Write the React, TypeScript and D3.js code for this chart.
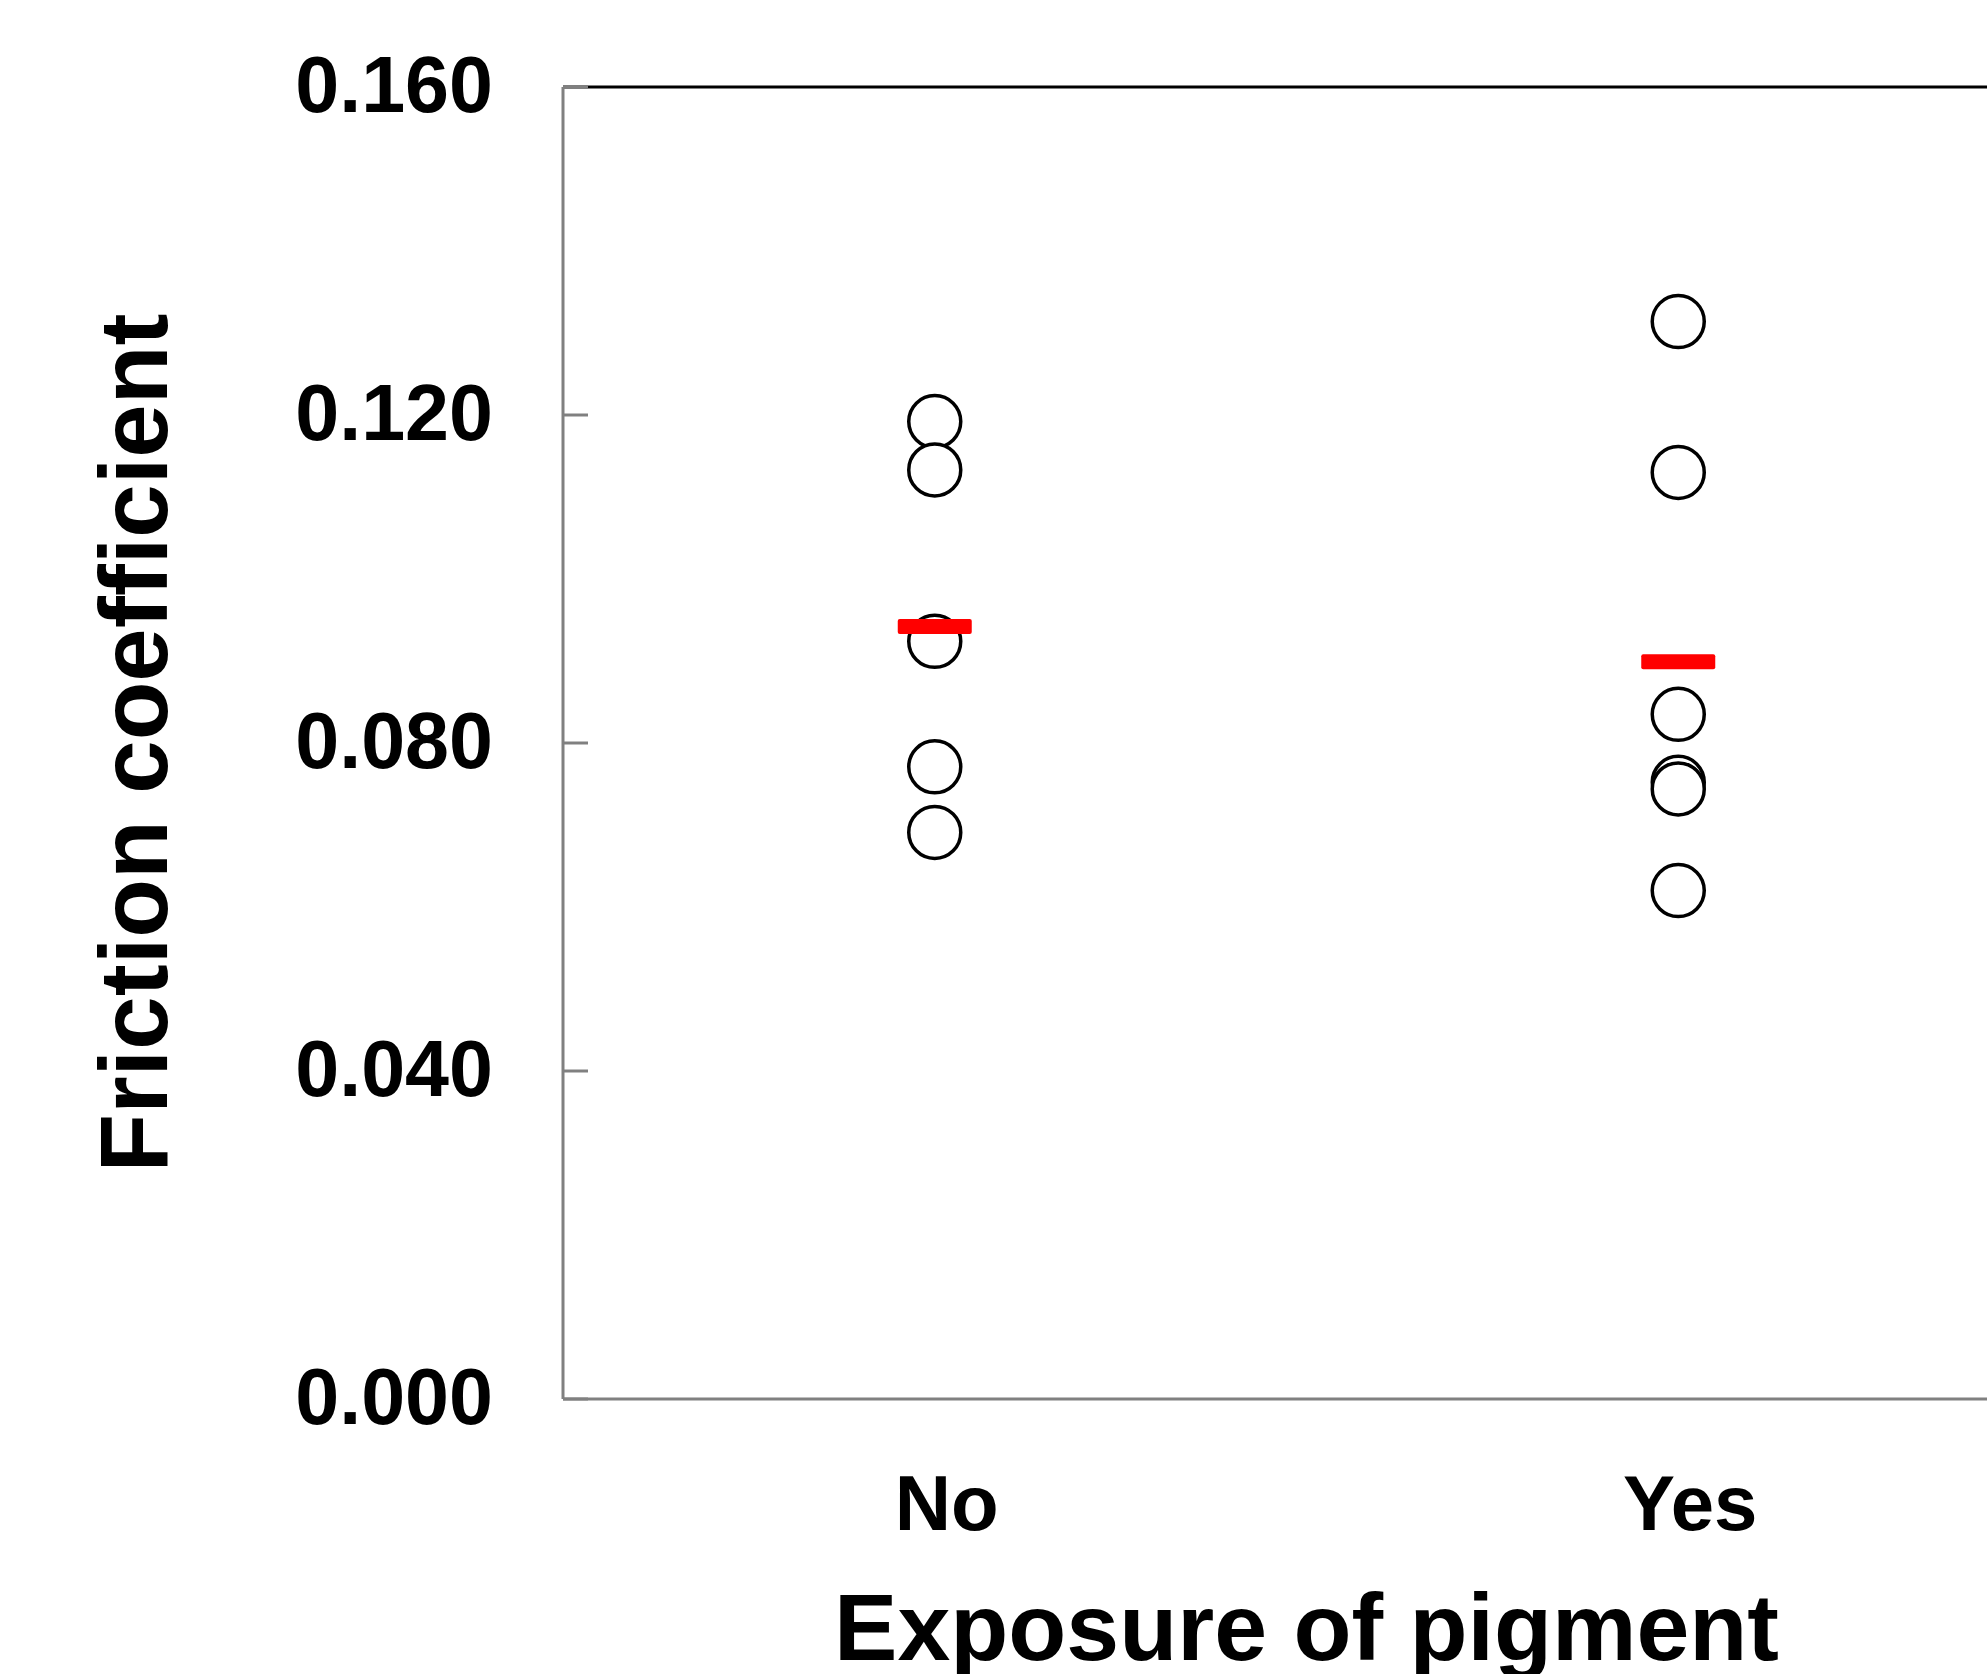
import React from "react";
import * as d3 from "d3";

// Friction coefficient by exposure of pigment
const categories = ["No", "Yes"];
const noValues = [0.1192, 0.1133, 0.0924, 0.0771, 0.0691];
const yesValues = [0.1314, 0.113, 0.0835, 0.0752, 0.0744, 0.062];
const yTicks = [0, 0.04, 0.08, 0.12, 0.16];

const groups = [
  { name: categories[0], values: noValues },
  { name: categories[1], values: yesValues },
];

const width = 1987;
const height = 1674;
const plot = { left: 563, right: 2050, top: 87, bottom: 1399 };
const font = "'Liberation Sans', Arial, Helvetica, sans-serif";

export default function App() {
  const x = d3
    .scalePoint<string>()
    .domain(categories)
    .range([plot.left, plot.right])
    .padding(0.5);

  const y = d3.scaleLinear().domain([0, 0.16]).range([plot.bottom, plot.top]);

  return (
    <svg
      width={width}
      height={height}
      style={{ position: "absolute", left: 0, top: 0, background: "#fff" }}
      fontFamily={font}
      fontWeight="bold"
    >
      {/* top border */}
      <line
        x1={plot.left}
        x2={plot.right}
        y1={y(0.16)}
        y2={y(0.16)}
        stroke="#000"
        strokeWidth={3}
      />
      {/* left + bottom axes */}
      <line
        x1={plot.left}
        x2={plot.left}
        y1={plot.top}
        y2={plot.bottom}
        stroke="#808080"
        strokeWidth={3}
      />
      <line
        x1={plot.left}
        x2={plot.right}
        y1={plot.bottom}
        y2={plot.bottom}
        stroke="#808080"
        strokeWidth={3}
      />

      {/* y ticks, pointing inward */}
      {yTicks.map((t) => (
        <g key={t}>
          <line
            x1={plot.left}
            x2={plot.left + 25}
            y1={y(t)}
            y2={y(t)}
            stroke="#808080"
            strokeWidth={3}
          />
          <text
            x={493}
            y={y(t) + 25}
            textAnchor="end"
            fontSize={79}
            fill="#000"
          >
            {d3.format(".3f")(t)}
          </text>
        </g>
      ))}

      {/* points and mean bars */}
      {groups.map((g) => {
        const cx = x(g.name) as number;
        const mean = d3.mean(g.values) as number;
        return (
          <g key={g.name}>
            {g.values.map((v, i) => (
              <circle
                key={i}
                cx={cx}
                cy={y(v)}
                r={26}
                fill="#fff"
                stroke="#000"
                strokeWidth={3.5}
              />
            ))}
            <rect
              x={cx - 37}
              y={y(mean) - 7.5}
              width={74}
              height={15}
              rx={2}
              fill="#ff0000"
            />
            <text
              x={cx + 12}
              y={1530}
              textAnchor="middle"
              fontSize={78}
              fill="#000"
            >
              {g.name}
            </text>
          </g>
        );
      })}

      {/* axis titles */}
      <text
        x={(plot.left + plot.right) / 2}
        y={1660}
        textAnchor="middle"
        fontSize={95}
        fill="#000"
      >
        Exposure of pigment
      </text>
      <text
        transform={`translate(167, ${(plot.top + plot.bottom) / 2}) rotate(-90)`}
        textAnchor="middle"
        fontSize={96}
        fill="#000"
      >
        Friction coefficient
      </text>
    </svg>
  );
}
